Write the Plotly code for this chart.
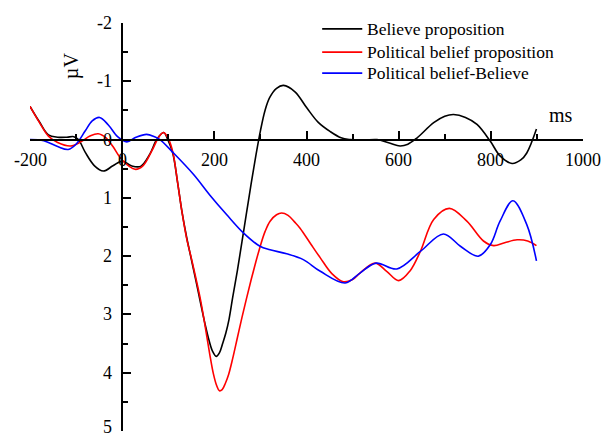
import plotly.graph_objects as go

# Time points (ms) and amplitudes (µV) per series
t_believe = [-200, -180, -160, -140, -120, -105, -95, -80, -60, -41, -20, 0, 20, 40, 60, 75, 90,
             100, 110, 120, 130, 140, 150, 160, 170, 180, 188, 196, 204, 211, 218, 225, 232, 240,
             250, 260, 270, 280, 290, 300, 310, 320, 335, 350, 375, 401, 425, 451, 475, 495, 525,
             553, 580, 603, 620, 640, 676, 700, 719, 745, 770, 799, 820, 846, 865, 878, 899]
v_believe = [-0.57, -0.31, -0.08, -0.04, -0.04, -0.05, 0.0, 0.22, 0.45, 0.54, 0.45, 0.37, 0.45, 0.46,
             0.25, 0.0, -0.12, 0.02, 0.24, 0.72, 1.25, 1.68, 2.05, 2.42, 2.80, 3.17, 3.43, 3.63,
             3.72, 3.66, 3.50, 3.32, 3.08, 2.70, 2.25, 1.75, 1.25, 0.75, 0.28, -0.15, -0.50, -0.72,
             -0.88, -0.93, -0.82, -0.54, -0.30, -0.14, -0.03, 0.0, 0.01, 0.0, 0.06, 0.11, 0.08,
             -0.03, -0.29, -0.40, -0.43, -0.38, -0.26, 0.03, 0.28, 0.41, 0.35, 0.23, -0.18]

t_political = [-200, -180, -160, -140, -112, -90, -70, -52, -35, -20, 0, 28, 45, 64, 80, 90, 100,
               110, 120, 130, 140, 150, 160, 170, 180, 190, 198, 205, 211, 217, 224, 231, 240, 250,
               260, 270, 280, 290, 300, 310, 321, 335, 346, 360, 375, 386, 410, 430, 455, 480, 500,
               516, 549, 574, 600, 625, 647, 676, 710, 748, 784, 806, 830, 857, 880, 899]
v_political = [-0.57, -0.30, -0.06, 0.05, 0.11, 0.04, -0.06, -0.10, -0.03, 0.12, 0.35, 0.51, 0.45,
               0.20, -0.05, -0.12, -0.02, 0.22, 0.72, 1.25, 1.70, 2.03, 2.38, 2.75, 3.20, 3.68,
               4.02, 4.22, 4.31, 4.29, 4.18, 4.03, 3.75, 3.40, 3.05, 2.72, 2.40, 2.10, 1.82, 1.58,
               1.40, 1.29, 1.26, 1.30, 1.42, 1.52, 1.80, 2.03, 2.30, 2.44, 2.40, 2.29, 2.12, 2.26,
               2.42, 2.25, 1.92, 1.37, 1.18, 1.40, 1.74, 1.82, 1.77, 1.72, 1.74, 1.82]

t_diff = [-200, -170, -140, -117, -100, -80, -65, -49, -30, -10, 10, 30, 53, 70, 82, 110, 155, 190,
          227, 263, 299, 321, 357, 393, 430, 484, 516, 551, 596, 647, 697, 734, 773, 799, 820,
          848, 878, 899]
v_diff = [0.0, 0.02, 0.12, 0.17, 0.08, -0.15, -0.32, -0.38, -0.25, -0.05, 0.04, -0.04, -0.09,
          -0.05, 0.0, 0.22, 0.60, 0.95, 1.29, 1.60, 1.83, 1.89, 1.96, 2.06, 2.26, 2.46, 2.29, 2.12,
          2.22, 1.92, 1.62, 1.83, 2.00, 1.80, 1.40, 1.05, 1.46, 2.08]

names = ["Believe proposition", "Political belief proposition", "Political belief-Believe"]
colors = ["#000000", "#ff0000", "#0000ff"]

x_ticks = [-200, 0, 200, 400, 600, 800, 1000]
y_ticks = [-2, -1, 0, 1, 2, 3, 4, 5]
x_title = "ms"
y_title = "µV"

FONT = "Liberation Serif, Times New Roman, serif"
TICK_FONT = dict(family=FONT, size=18, color="black")

fig = go.Figure()
for t, v, n, c in zip([t_believe, t_political, t_diff], [v_believe, v_political, v_diff], names, colors):
    fig.add_trace(go.Scatter(x=t, y=v, mode="lines", name=n, showlegend=False,
                             line=dict(color=c, width=1.6, shape="spline", smoothing=1.0,
                                       simplify=False)))

annotations = []
shapes = []
# x tick labels below the crossing axis
for xv in x_ticks:
    annotations.append(dict(text=str(xv), x=xv, y=0, xref="x", yref="y", showarrow=False,
                            xanchor="center", yanchor="middle", yshift=-20, font=TICK_FONT))
# y tick labels left of the crossing axis (lowest one nudged up to stay on the page)
for yv in y_ticks:
    annotations.append(dict(text=str(yv), x=0, y=yv, xref="x", yref="y", showarrow=False,
                            xanchor="right", yanchor="middle", xshift=-8,
                            yshift=4 if yv == y_ticks[-1] else 0, font=TICK_FONT))
annotations.append(dict(text=y_title, x=-111, y=-1.26, xref="x", yref="y", showarrow=False,
                        textangle=-90, font=dict(family=FONT, size=20, color="black")))
annotations.append(dict(text=x_title, x=953, y=-0.42, xref="x", yref="y", showarrow=False,
                        font=dict(family=FONT, size=20, color="black")))

# Legend (drawn in the upper right, in data coordinates of the axes)
legend_rows = [-1.90, -1.50, -1.14]
for n, c, ry in zip(names, colors, legend_rows):
    shapes.append(dict(type="line", xref="x", yref="y", x0=434, x1=521, y0=ry, y1=ry,
                       line=dict(color=c, width=1.6)))
    annotations.append(dict(text=n, x=528, y=ry, xref="x", yref="y", showarrow=False,
                            xanchor="left", yanchor="middle",
                            font=dict(family=FONT, size=17.5, color="black")))

fig.update_layout(
    width=602, height=436,
    margin=dict(l=30, r=19, t=23, b=5),
    plot_bgcolor="white", paper_bgcolor="white",
    font=dict(family=FONT, color="black", size=18),
    showlegend=False,
    xaxis=dict(range=[-200, 1000], anchor="free", position=5/7,
               tickvals=x_ticks, showticklabels=False,
               ticks="inside", ticklen=8, tickwidth=2, tickcolor="black",
               minor=dict(dtick=100, tick0=0, ticks="inside", ticklen=5, tickwidth=2, tickcolor="black"),
               showline=True, linecolor="black", linewidth=2,
               showgrid=False, zeroline=False),
    yaxis=dict(range=[5, -2], anchor="free", position=200/1200,
               tickvals=y_ticks, showticklabels=False,
               ticks="inside", ticklen=8, tickwidth=2, tickcolor="black",
               minor=dict(dtick=0.5, tick0=0, ticks="inside", ticklen=5, tickwidth=2, tickcolor="black"),
               showline=True, linecolor="black", linewidth=2,
               showgrid=False, zeroline=False),
    annotations=annotations,
    shapes=shapes,
)

fig.write_html("out.html")
